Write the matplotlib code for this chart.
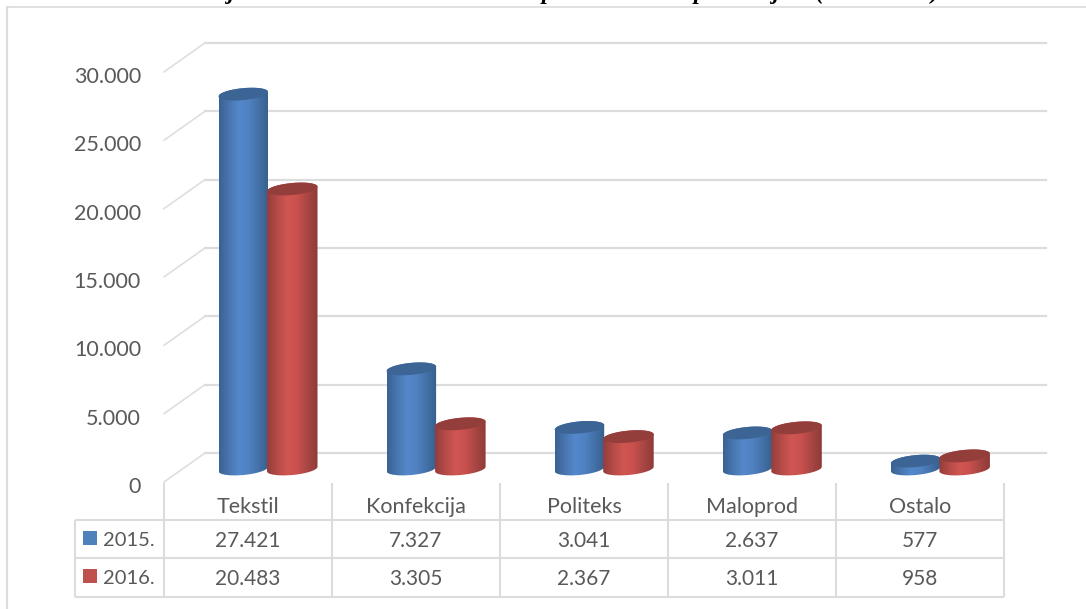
import numpy as np
import matplotlib
matplotlib.use('Agg')
import matplotlib.pyplot as plt
from matplotlib.colors import LinearSegmentedColormap
from matplotlib.patches import PathPatch, Rectangle
from matplotlib.path import Path

# podaci
categories = ['Tekstil', 'Konfekcija', 'Politeks', 'Maloprod', 'Ostalo']
years = ['2015.', '2016.']
values_2015 = [27421, 7327, 3041, 2637, 577]
values_2016 = [20483, 3305, 2367, 3011, 958]
y_ticks = [0, 5000, 10000, 15000, 20000, 25000, 30000]

plt.rcParams['font.family'] = ['Lato', 'DejaVu Sans']
TXT = '#595959'
GRID = '#dcdcdc'
PX_PER_UNIT = 13.67 / 1000


def y_px(p):
    """piksel odozgo -> vrijednost na osi"""
    return (482 - p) / PX_PER_UNIT


def fmt(v):
    return f'{v:,}'.replace(',', '.')


fig = plt.figure(figsize=(10.86, 6.09), dpi=100)
ax = fig.add_axes([0, 0, 1, 1])
ax.axis('off')


def hline(x0, x1, p, lw=1.5, color=GRID):
    ax.plot([x0, x1], [y_px(p), y_px(p)], color=color, lw=lw, solid_capstyle='butt', zorder=1)


def vline(x, p0, p1, lw=1.5, color=GRID):
    ax.plot([x, x], [y_px(p0), y_px(p1)], color=color, lw=lw, solid_capstyle='butt', zorder=1)


# okvir
hline(6, 1086, 7, lw=1.2)
vline(6.5, 7, 609, lw=1.6)

# mreza i dijagonale
for v in y_ticks:
    ax.plot([164, 205], [v, v + 29 / PX_PER_UNIT], color=GRID, lw=1.1, zorder=1)
    back = v + 29 / PX_PER_UNIT
    ax.plot([205, 1046], [back, back], color=GRID, lw=1.6, zorder=1)
    ax.text(141, v - 5 / PX_PER_UNIT, fmt(v), ha='right', va='center', fontsize=15.5, color=TXT)

cmap_blue = LinearSegmentedColormap.from_list(
    'b', ['#3a6292', '#4876af', '#5488cb', '#5082c2', '#4370a6', '#375f8e'])
cmap_red = LinearSegmentedColormap.from_list(
    'r', ['#933d3b', '#b54b48', '#d05653', '#c8504d', '#a84643', '#8e3a38'])
TOP_BLUE = '#3c6595'
TOP_RED = '#943e3c'


def cylinder(x0, x1, value, cmap, top_color, z):
    a = (x1 - x0) / 2
    cx = (x0 + x1) / 2
    b = 6
    slope = 0.09
    base_p = 469
    top_p = base_p - value * PX_PER_UNIT

    def ell(cy, t):
        xs = cx + a * np.cos(t)
        ps = cy + b * np.sin(t) - slope * a * np.cos(t)
        return xs, y_px(ps)

    t_low = np.linspace(0, np.pi, 40)
    t_up = np.linspace(np.pi, 2 * np.pi, 40)
    xb, yb = ell(base_p, t_low)
    xt, yt = ell(top_p, t_up)
    verts = np.vstack([np.column_stack([xb, yb]), np.column_stack([xt, yt])])
    body = Path(np.vstack([verts, verts[0]]), closed=True)

    grad = np.linspace(0, 1, 256).reshape(1, -1)
    im = ax.imshow(grad, cmap=cmap, aspect='auto', zorder=z,
                   extent=[x0, x1, y_px(base_p + 12), y_px(top_p - 12)])
    im.set_clip_path(PathPatch(body, transform=ax.transData))

    t_all = np.linspace(0, 2 * np.pi, 80)
    xe, ye = ell(top_p, t_all)
    ax.fill(xe, ye, color=top_color, lw=0, zorder=z + 0.1)


# cilindri
for i, (v15, v16) in enumerate(zip(values_2015, values_2016)):
    center = 268 + i * 168.1
    cylinder(center - 49.5, center, v15, cmap_blue, TOP_BLUE, 3 + i * 0.01)
    cylinder(center - 1, center + 49.5, v16, cmap_red, TOP_RED, 4 + i * 0.01)

# tablica
col_x = [164 + i * 168 for i in range(6)]
for x in col_x:
    vline(x, 483, 597)
vline(75, 520, 597)
for p in [520, 558, 597]:
    hline(75, 1004, p)

for i, cat in enumerate(categories):
    cx = col_x[i] + 84
    ax.text(cx, y_px(507), cat, ha='center', va='center', fontsize=15.5, color=TXT)
    ax.text(cx, y_px(541), fmt(values_2015[i]), ha='center', va='center', fontsize=15, color=TXT)
    ax.text(cx, y_px(579), fmt(values_2016[i]), ha='center', va='center', fontsize=15, color=TXT)

for year, p, col in zip(years, [538, 576], ['#4f81bd', '#c0504d']):
    ax.add_patch(Rectangle((83, y_px(p + 7)), 14, 14 / PX_PER_UNIT, color=col, lw=0, zorder=2))
    ax.text(103, y_px(p + 2.5), year, ha='left', va='center', fontsize=14.5, color=TXT)

# naslov odrezan na vrhu slike, vide se samo dijelovi slova
for ch, x in zip(['j', 'p', 'p', 'j', '(', ')'], [230, 548, 700, 775, 820, 935]):
    ax.text(x, y_px(-1), ch, ha='center', va='baseline', fontsize=17, color='black',
            family='Liberation Serif', style='italic', weight='bold')

ax.set_xlim(0, 1086)
ax.set_ylim(y_px(609), y_px(0))

fig.savefig('out.png', dpi=100)
